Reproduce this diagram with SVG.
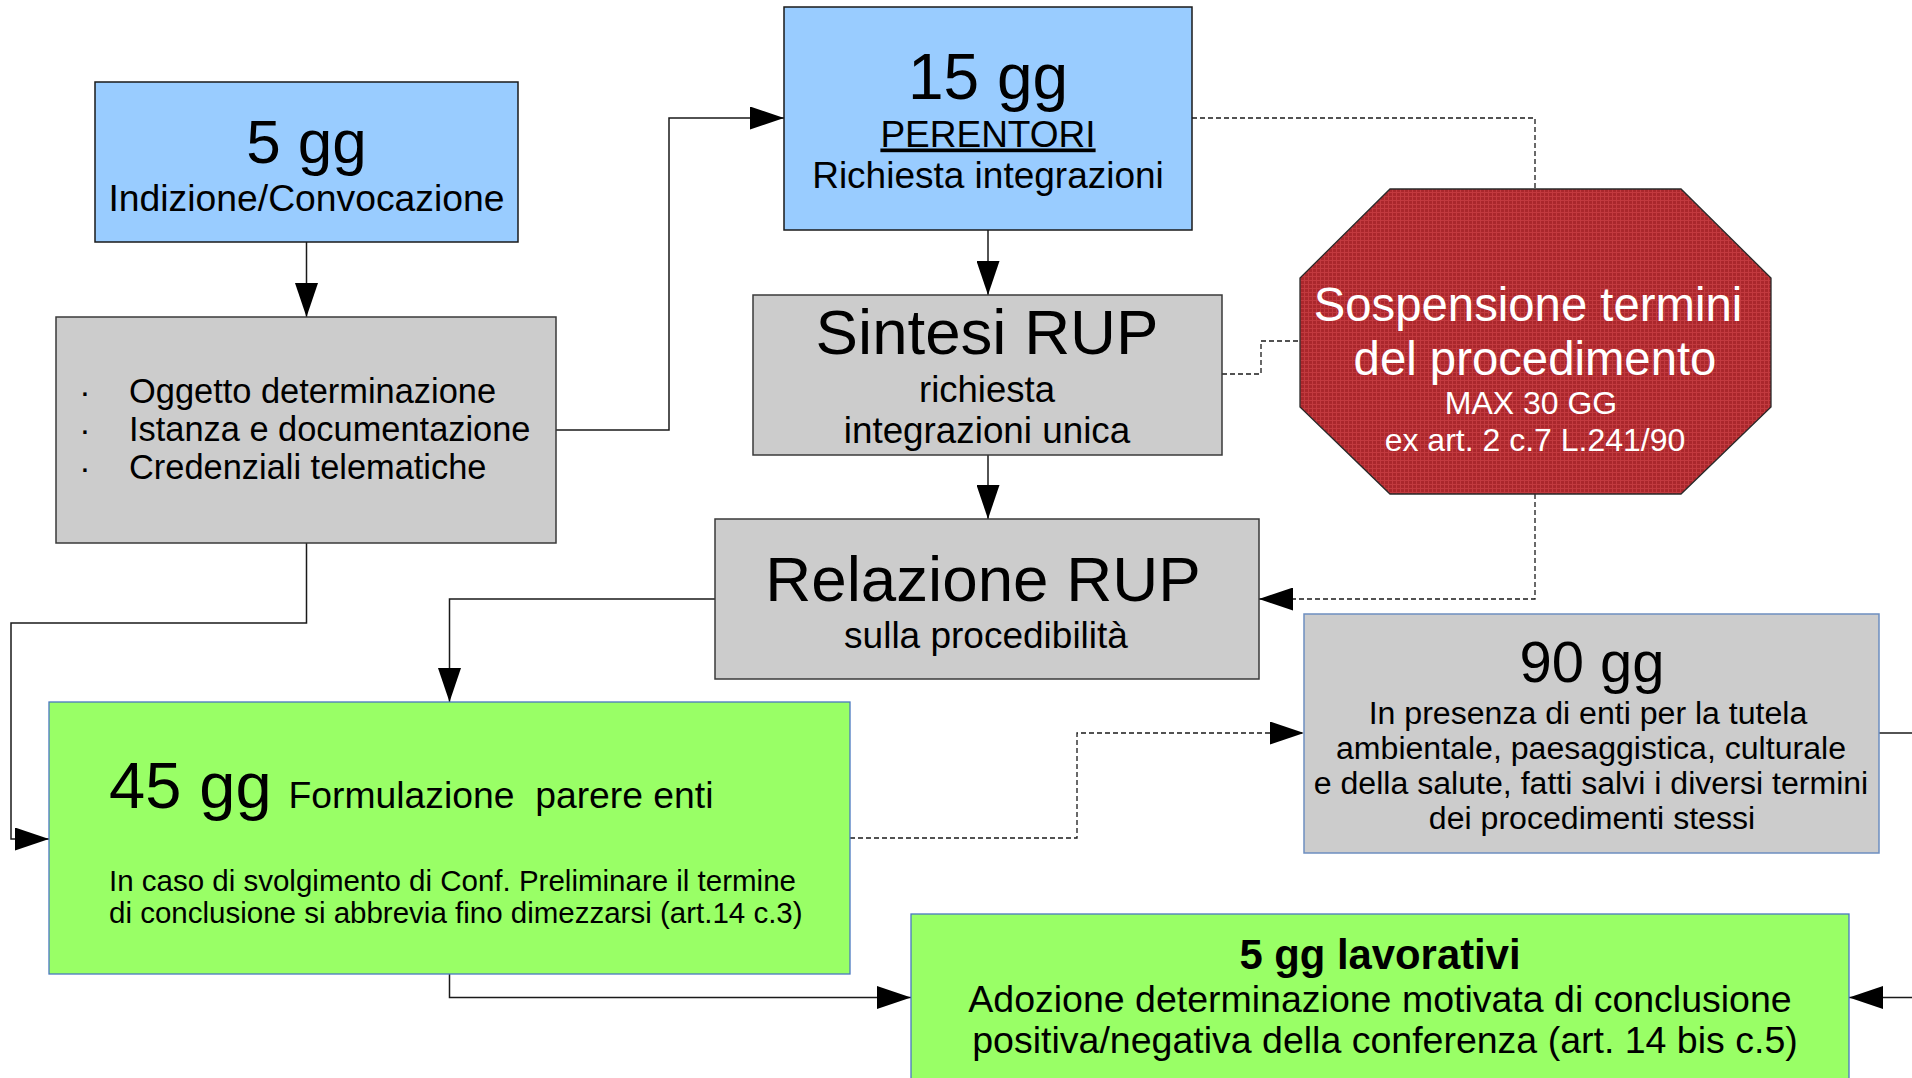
<svg xmlns="http://www.w3.org/2000/svg" width="1912" height="1078" viewBox="0 0 1912 1078">
<style>
  text { font-family: "Liberation Sans", Arial, sans-serif; fill: #000; }
  .c { text-anchor: middle; }
  .blue { fill: #99ccff; stroke: #1a1a1a; stroke-width: 1.5; }
  .gray { fill: #cccccc; stroke: #3a3a3a; stroke-width: 1.5; }
  .grayb { fill: #cccccc; stroke: #6d8ec0; stroke-width: 1.5; }
  .green { fill: #99ff66; stroke: #4a78c0; stroke-width: 1.3; }
  .oct { fill: url(#redgrid); stroke: #2a2a2a; stroke-width: 1.3; }
  .w { fill: #ffffff; }
  .ln { fill: none; stroke: #1a1a1a; stroke-width: 1.5; }
  .lnd { fill: none; stroke: #1a1a1a; stroke-width: 1.3; stroke-dasharray: 5 3; }
</style>
<defs>
  <marker id="arr" viewBox="0 0 34 23" refX="34" refY="11.5" markerWidth="34" markerHeight="23" markerUnits="userSpaceOnUse" orient="auto">
    <path d="M0,0 L34,11.5 L0,23 z" fill="#000"/>
  </marker>
  <pattern id="redgrid" width="4" height="4" patternUnits="userSpaceOnUse">
    <rect width="4" height="4" fill="#aa272c"/>
    <rect x="0" y="0" width="1" height="4" fill="#c23a3f"/>
    <rect x="0" y="0" width="4" height="1" fill="#c23a3f"/>
  </pattern>
</defs>

<g id="connectors">
  <path class="ln" d="M306.5,242 V317" marker-end="url(#arr)"/>
  <path class="ln" d="M556,430 H669 V118 H784" marker-end="url(#arr)"/>
  <path class="ln" d="M988,230 V295" marker-end="url(#arr)"/>
  <path class="ln" d="M988,455 V519" marker-end="url(#arr)"/>
  <path class="ln" d="M715,599 H449.5 V702" marker-end="url(#arr)"/>
  <path class="ln" d="M306.5,543 V623 H11 V839 H49" marker-end="url(#arr)"/>
  <path class="ln" d="M449.5,974 V997.5 H911" marker-end="url(#arr)"/>
  <path class="ln" d="M1912,997.5 H1849" marker-end="url(#arr)"/>
  <path class="ln" d="M1879,733 H1912"/>
  <path class="lnd" d="M1192,118 H1535 V189"/>
  <path class="lnd" d="M1222,374 H1261 V341 H1300"/>
  <path class="lnd" d="M1535,494 V599 H1259" marker-end="url(#arr)"/>
  <path class="lnd" d="M850,838 H1077 V733 H1304" marker-end="url(#arr)"/>
</g>

<g id="node-5gg">
  <rect class="blue" x="95" y="82" width="423" height="160"/>
  <text class="c" x="306.5" y="162.5" font-size="62">5 gg</text>
  <text class="c" x="306.5" y="211" font-size="37.3">Indizione/Convocazione</text>
</g>

<g id="node-documenti">
  <rect class="gray" x="56" y="317" width="500" height="226"/>
  <text x="85" y="403" font-size="34" text-anchor="middle">·</text>
  <text x="85" y="441" font-size="34" text-anchor="middle">·</text>
  <text x="85" y="479" font-size="34" text-anchor="middle">·</text>
  <text x="129" y="403" font-size="34.4">Oggetto determinazione</text>
  <text x="129" y="441" font-size="34.4">Istanza e documentazione</text>
  <text x="129" y="479" font-size="34.4">Credenziali telematiche</text>
</g>

<g id="node-15gg">
  <rect class="blue" x="784" y="7" width="408" height="223"/>
  <text class="c" x="988" y="98.5" font-size="64">15 gg</text>
  <text class="c" x="988" y="146.5" font-size="37" text-decoration="underline">PERENTORI</text>
  <text class="c" x="988" y="187.5" font-size="37">Richiesta integrazioni</text>
</g>

<g id="node-sintesi">
  <rect class="gray" x="753" y="295" width="469" height="160"/>
  <text class="c" x="987" y="354" font-size="63.6">Sintesi RUP</text>
  <text class="c" x="987" y="401.5" font-size="36.5">richiesta</text>
  <text class="c" x="987" y="443" font-size="36.8">integrazioni unica</text>
</g>

<g id="node-sospensione">
  <polygon class="oct" points="1390,189 1681,189 1771,278 1771,407 1681,494 1390,494 1300,407 1300,278"/>
  <text class="c w" x="1528" y="321" font-size="47.3">Sospensione termini</text>
  <text class="c w" x="1535" y="375" font-size="47.3">del procedimento</text>
  <text class="c w" x="1531" y="414" font-size="32">MAX 30 GG</text>
  <text class="c w" x="1535" y="450.5" font-size="32">ex art. 2 c.7 L.241/90</text>
</g>

<g id="node-relazione">
  <rect class="gray" x="715" y="519" width="544" height="160"/>
  <text class="c" x="983" y="601" font-size="63.7">Relazione RUP</text>
  <text class="c" x="986" y="647.5" font-size="37">sulla procedibilità</text>
</g>

<g id="node-45gg">
  <rect class="green" x="49" y="702" width="801" height="272"/>
  <text x="109" y="808" font-size="65">45 gg</text>
  <text x="288.5" y="808" font-size="37.3" xml:space="preserve" style="white-space:pre">Formulazione  parere enti</text>
  <text x="109" y="891" font-size="29.5">In caso di svolgimento di Conf. Preliminare il termine</text>
  <text x="109" y="923" font-size="29.5">di conclusione si abbrevia fino dimezzarsi (art.14 c.3)</text>
</g>

<g id="node-90gg">
  <rect class="grayb" x="1304" y="614" width="575" height="239"/>
  <text class="c" x="1592" y="681.5" font-size="58">90 gg</text>
  <text class="c" x="1588" y="723.5" font-size="32.1">In presenza di enti per la tutela</text>
  <text class="c" x="1591" y="758.5" font-size="32.1">ambientale, paesaggistica, culturale</text>
  <text class="c" x="1591" y="794" font-size="32.1">e della salute, fatti salvi i diversi termini</text>
  <text class="c" x="1592" y="829" font-size="32.1">dei procedimenti stessi</text>
</g>

<g id="node-5gg-lavorativi">
  <rect class="green" x="911" y="914" width="938" height="180"/>
  <text class="c" x="1380" y="969" font-size="41.8" font-weight="bold">5 gg lavorativi</text>
  <text class="c" x="1380" y="1011.5" font-size="37.5">Adozione determinazione motivata di conclusione</text>
  <text class="c" x="1385" y="1053" font-size="37.5">positiva/negativa della conferenza (art. 14 bis c.5)</text>
</g>
</svg>
